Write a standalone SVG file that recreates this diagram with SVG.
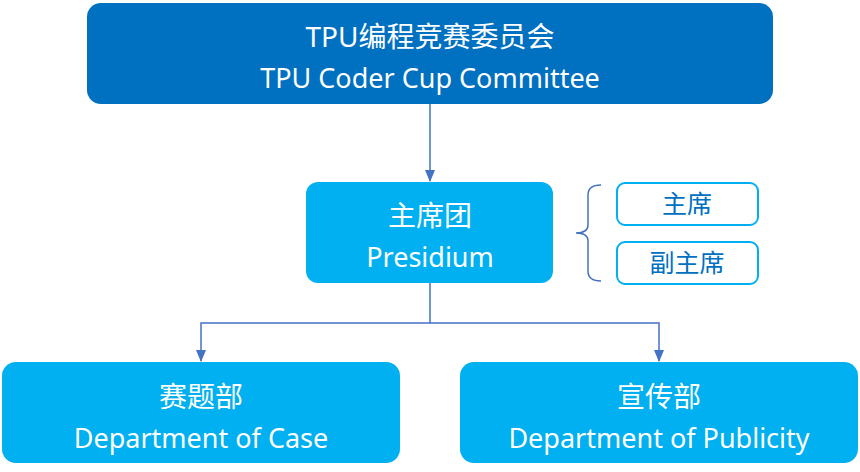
<svg xmlns="http://www.w3.org/2000/svg" width="860" height="472" viewBox="0 0 860 472">
<style>
.dark{fill:#0070C0;}
.light{fill:#00B0F0;}
.t{font-family:"Noto Sans","Noto Sans CJK SC",sans-serif;font-size:27px;fill:#fff;text-anchor:middle;}
.cj{font-size:28px;}
.st{font-family:"Noto Sans","Noto Sans CJK SC",sans-serif;font-size:25px;fill:#0070C0;text-anchor:middle;}
.sb{fill:#fff;stroke:#00B0F0;stroke-width:2;}
.c{fill:none;stroke:#4472C4;stroke-width:1.5;}
</style>
<defs>
<marker id="ah" markerWidth="12" markerHeight="10" refX="11" refY="5" orient="auto" markerUnits="userSpaceOnUse">
<path d="M0,0 L12,5 L0,10 Z" fill="#4472C4"/>
</marker>
</defs>
<g id="connectors">
<path class="c" d="M430,104 V181" marker-end="url(#ah)"/>
<path class="c" d="M430,283 V323 H201 V361" marker-end="url(#ah)"/>
<path class="c" d="M430,323 H659 V361" marker-end="url(#ah)"/>
<path class="c" d="M601,185 Q588,185 588,195 V225 Q588,233 576,233 Q588,233 588,241 V271 Q588,281 601,281"/>
</g>
<g id="committee">
<rect class="dark" x="87" y="3" width="686" height="101" rx="14"/>
<text class="t cj" x="430" y="47">TPU编程竞赛委员会</text>
<text class="t" x="430" y="88">TPU Coder Cup Committee</text>
</g>
<g id="presidium">
<rect class="light" x="306" y="182" width="247" height="101" rx="12"/>
<text class="t cj" x="430" y="226">主席团</text>
<text class="t" x="430" y="267">Presidium</text>
</g>
<g id="chair">
<rect class="sb" x="617" y="183" width="141" height="42" rx="8"/>
<text class="st" x="687" y="213">主席</text>
</g>
<g id="vicechair">
<rect class="sb" x="617" y="242" width="141" height="42" rx="8"/>
<text class="st" x="687" y="272">副主席</text>
</g>
<g id="case">
<rect class="light" x="2" y="362" width="398" height="101" rx="14"/>
<text class="t cj" x="201" y="407">赛题部</text>
<text class="t" x="201" y="448">Department of Case</text>
</g>
<g id="publicity">
<rect class="light" x="460" y="362" width="398" height="101" rx="14"/>
<text class="t cj" x="659" y="407">宣传部</text>
<text class="t" x="659" y="448">Department of Publicity</text>
</g>
</svg>
